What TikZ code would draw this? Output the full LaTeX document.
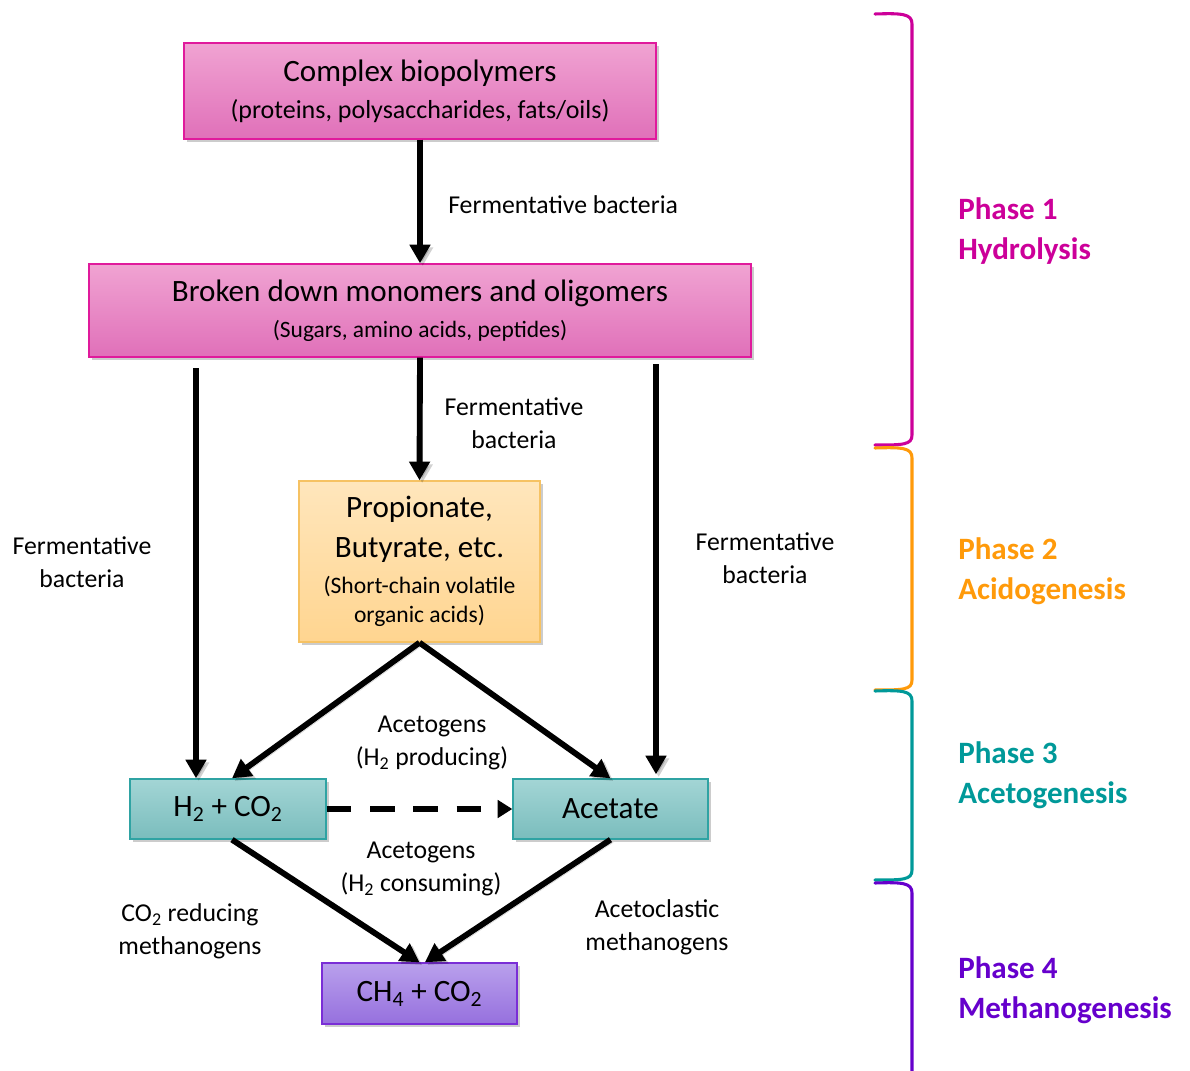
\documentclass[tikz,border=0pt]{standalone}
\usepackage{fontspec}
\setmainfont{Carlito}
\usetikzlibrary{arrows.meta,shadows,calc}
\definecolor{pinkT}{HTML}{F0A3D2}
\definecolor{pinkB}{HTML}{E070B9}
\definecolor{pinkD}{HTML}{E01A9C}
\definecolor{oraT}{HTML}{FFE6BC}
\definecolor{oraB}{HTML}{FFD590}
\definecolor{oraD}{HTML}{F6C263}
\definecolor{tealT}{HTML}{A3D5D5}
\definecolor{tealB}{HTML}{7ABDBD}
\definecolor{tealD}{HTML}{2FA3A3}
\definecolor{purT}{HTML}{B9A0EC}
\definecolor{purB}{HTML}{9670DE}
\definecolor{purD}{HTML}{7A2ED6}
\definecolor{ph1}{HTML}{CC0099}
\definecolor{ph2}{HTML}{FF9A0A}
\definecolor{ph3}{HTML}{009999}
\definecolor{ph4}{HTML}{6600CC}
\begin{document}
\begin{tikzpicture}[x=0.75pt,y=-0.75pt,
  box/.style={draw, line width=1pt, inner sep=0pt, align=center,
    drop shadow={shadow xshift=2.5pt, shadow yshift=-2.5pt, opacity=0.4}},
  mainf/.style={font=\fontsize{23.3}{30}\selectfont},
  arr/.style={line width=4.4pt, -{Triangle[length=14pt,width=15pt]},
    preaction={draw=black, opacity=0.18, transform canvas={xshift=2pt,yshift=-2pt}}},
  lbl/.style={font=\fontsize{19.3}{24.75}\selectfont, align=center, inner sep=0pt},
  phase/.style={font=\bfseries\fontsize{23.3}{30}\selectfont, align=left, anchor=west, inner sep=0pt},
  brc/.style={line width=2.3pt, line cap=round}]
\useasboundingbox (0,0) rectangle (1190,1071);

% boxes
\node[box, draw=pinkD, top color=pinkT, bottom color=pinkB,
  font=\fontsize{19.5}{27.75}\selectfont,
  minimum width=354pt, minimum height=72pt] (b1) at (420,91)
  {{\fontsize{23.3}{30}\selectfont Complex biopolymers}\\
   (proteins, polysaccharides, fats/oils)};
\node[box, draw=pinkD, top color=pinkT, bottom color=pinkB,
  font=\fontsize{17.6}{27}\selectfont,
  minimum width=496.5pt, minimum height=69.75pt] (b2) at (420,310.5)
  {{\fontsize{23.3}{30}\selectfont Broken down monomers and oligomers}\\
   (Sugars, amino acids, peptides)};
\node[box, draw=oraD, top color=oraT, bottom color=oraB,
  font=\fontsize{17.7}{30}\selectfont,
  minimum width=180.75pt, minimum height=120.75pt] (b3) at (419.5,561.5)
  {{\fontsize{23.3}{30}\selectfont Propionate,}\\
   {\fontsize{23.3}{30}\selectfont Butyrate, etc.}\\[-3pt]
   (Short-chain volatile\\[-8.25pt]
   organic acids)};
\node[box, mainf, draw=tealD, top color=tealT, bottom color=tealB,
  minimum width=147pt, minimum height=45pt] (h2) at (228,809)
  {H\textsubscript{2} + CO\textsubscript{2}};
\node[box, mainf, draw=tealD, top color=tealT, bottom color=tealB,
  minimum width=146.25pt, minimum height=45pt] (ac) at (610.5,809) {Acetate};
\node[box, mainf, draw=purD, top color=purT, bottom color=purB,
  minimum width=146.25pt, minimum height=45.75pt] (ch) at (419.5,993.5)
  {CH\textsubscript{4} + CO\textsubscript{2}};

% connectors
\coordinate (l1) at (196,368);
\coordinate (r1) at (656,364);
\draw[arr] (b1.south) -- (b2.north);
\draw[arr] (b2.south) -- (b3.north);
\draw[arr] (l1) -- (l1 |- h2.north);
\draw[arr] (r1) -- ([yshift=3pt]r1 |- ac.north);
\draw[arr] (b3.south) -- ([xshift=3pt]h2.north);
\draw[arr] (b3.south) -- (ac.north);
\draw[line width=4.4pt, dash pattern=on 18.5pt off 14pt, -{Triangle[length=11pt,width=13pt]}] (h2.east) -- (ac.west);
\draw[arr] ([xshift=3pt]h2.south) -- ([xshift=0pt]ch.north);
\draw[arr] (ac.south) -- ([xshift=4pt]ch.north);

% labels
\node[lbl, anchor=west] (t1) at (448,205) {Fermentative bacteria};
\node[lbl] (t2) at (514,423) {Fermentative\\bacteria};
\node[lbl] (t3) at (82,562) {Fermentative\\bacteria};
\node[lbl] (t4) at (765,558) {Fermentative\\bacteria};
\node[lbl] (t5) at (432,743) {Acetogens\\(H\textsubscript{2} producing)};
\node[lbl] (t6) at (421,869) {Acetogens\\(H\textsubscript{2} consuming)};
\node[lbl] (t7) at (190,931) {CO\textsubscript{2} reducing\\methanogens};
\node[lbl] (t8) at (657,927) {Acetoclastic\\methanogens};

% phase brackets
\draw[brc, ph1] (875,14) .. controls (903,13) and (912,14) .. (912,24) -- (912,435)
  .. controls (912,445) and (903,445) .. (875,445);
\draw[brc, ph2] (875,448) .. controls (903,447) and (912,448) .. (912,458) -- (912,680)
  .. controls (912,690) and (903,690) .. (875,690);
\draw[brc, ph3] (875,691) .. controls (903,690) and (912,691) .. (912,701) -- (912,870)
  .. controls (912,880) and (903,880) .. (875,880);
\draw[brc, ph4] (875,883) .. controls (903,882) and (912,883) .. (912,893) -- (912,1080);

\node[phase, text=ph1] (p1) at (958,231) {Phase 1\\Hydrolysis};
\node[phase, text=ph2] (p2) at (958,571) {Phase 2\\Acidogenesis};
\node[phase, text=ph3] (p3) at (958,775) {Phase 3\\Acetogenesis};
\node[phase, text=ph4] (p4) at (958,990) {Phase 4\\Methanogenesis};
\end{tikzpicture}
\end{document}
